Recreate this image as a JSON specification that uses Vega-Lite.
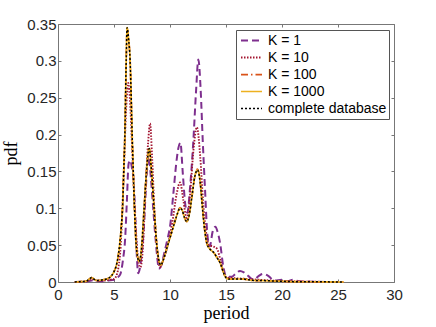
{
"$schema": "https://vega.github.io/schema/vega-lite/v6.json",
"width": 336, "height": 258,
"autosize": "none",
"padding": {"left": 58, "top": 24, "right": 42, "bottom": 45},
"background": "white",
"config": {"view": {"stroke": "#777", "strokeWidth": 1}},
"datasets": {
"d": [
{"s":"K = 1","x":1.5,"y":0},{"s":"K = 1","x":2.5,"y":0.0005},{"s":"K = 1","x":3.0,"y":0.002},{"s":"K = 1","x":3.5,"y":0.001},{"s":"K = 1","x":4.0,"y":0.001},{"s":"K = 1","x":4.5,"y":0.002},{"s":"K = 1","x":5.0,"y":0.003},{"s":"K = 1","x":5.3,"y":0.006},{"s":"K = 1","x":5.55,"y":0.01},{"s":"K = 1","x":5.8,"y":0.03},{"s":"K = 1","x":6.0,"y":0.06},{"s":"K = 1","x":6.15,"y":0.11},{"s":"K = 1","x":6.3,"y":0.16},{"s":"K = 1","x":6.45,"y":0.165},{"s":"K = 1","x":6.6,"y":0.155},{"s":"K = 1","x":6.74,"y":0.139},{"s":"K = 1","x":6.9,"y":0.089},{"s":"K = 1","x":7.04,"y":0.035},{"s":"K = 1","x":7.15,"y":0.012},{"s":"K = 1","x":7.3,"y":0.018},{"s":"K = 1","x":7.45,"y":0.035},{"s":"K = 1","x":7.63,"y":0.066},{"s":"K = 1","x":7.93,"y":0.148},{"s":"K = 1","x":8.1,"y":0.17},{"s":"K = 1","x":8.3,"y":0.14},{"s":"K = 1","x":8.5,"y":0.1},{"s":"K = 1","x":8.67,"y":0.066},{"s":"K = 1","x":8.85,"y":0.035},{"s":"K = 1","x":9.0,"y":0.018},{"s":"K = 1","x":9.2,"y":0.022},{"s":"K = 1","x":9.5,"y":0.04},{"s":"K = 1","x":9.8,"y":0.06},{"s":"K = 1","x":10.0,"y":0.075},{"s":"K = 1","x":10.3,"y":0.12},{"s":"K = 1","x":10.55,"y":0.16},{"s":"K = 1","x":10.75,"y":0.182},{"s":"K = 1","x":10.93,"y":0.189},{"s":"K = 1","x":11.14,"y":0.148},{"s":"K = 1","x":11.35,"y":0.107},{"s":"K = 1","x":11.55,"y":0.094},{"s":"K = 1","x":11.8,"y":0.13},{"s":"K = 1","x":12.09,"y":0.193},{"s":"K = 1","x":12.33,"y":0.26},{"s":"K = 1","x":12.53,"y":0.302},{"s":"K = 1","x":12.74,"y":0.26},{"s":"K = 1","x":12.92,"y":0.193},{"s":"K = 1","x":13.13,"y":0.125},{"s":"K = 1","x":13.33,"y":0.066},{"s":"K = 1","x":13.55,"y":0.048},{"s":"K = 1","x":13.8,"y":0.068},{"s":"K = 1","x":14.05,"y":0.075},{"s":"K = 1","x":14.25,"y":0.068},{"s":"K = 1","x":14.47,"y":0.053},{"s":"K = 1","x":14.76,"y":0.021},{"s":"K = 1","x":15.0,"y":0.008},{"s":"K = 1","x":15.5,"y":0.007},{"s":"K = 1","x":15.9,"y":0.012},{"s":"K = 1","x":16.25,"y":0.015},{"s":"K = 1","x":16.6,"y":0.013},{"s":"K = 1","x":17.0,"y":0.008},{"s":"K = 1","x":17.5,"y":0.003},{"s":"K = 1","x":17.9,"y":0.008},{"s":"K = 1","x":18.3,"y":0.011},{"s":"K = 1","x":18.8,"y":0.008},{"s":"K = 1","x":19.3,"y":0.002},{"s":"K = 1","x":20.0,"y":0.003},{"s":"K = 1","x":20.5,"y":0.001},{"s":"K = 1","x":21.0,"y":0.003},{"s":"K = 1","x":21.5,"y":0.001},{"s":"K = 1","x":22.5,"y":0.0005},{"s":"K = 1","x":24.0,"y":0},

{"s":"K = 10","x":1.5,"y":0},{"s":"K = 10","x":2.5,"y":0.001},{"s":"K = 10","x":3.0,"y":0.004},{"s":"K = 10","x":3.5,"y":0.002},{"s":"K = 10","x":4.0,"y":0.002},{"s":"K = 10","x":4.5,"y":0.003},{"s":"K = 10","x":5.0,"y":0.004},{"s":"K = 10","x":5.2,"y":0.008},{"s":"K = 10","x":5.4,"y":0.02},{"s":"K = 10","x":5.6,"y":0.05},{"s":"K = 10","x":5.75,"y":0.1},{"s":"K = 10","x":5.9,"y":0.16},{"s":"K = 10","x":6.1,"y":0.24},{"s":"K = 10","x":6.28,"y":0.27},{"s":"K = 10","x":6.45,"y":0.24},{"s":"K = 10","x":6.65,"y":0.17},{"s":"K = 10","x":6.85,"y":0.1},{"s":"K = 10","x":7.0,"y":0.06},{"s":"K = 10","x":7.2,"y":0.025},{"s":"K = 10","x":7.35,"y":0.02},{"s":"K = 10","x":7.55,"y":0.04},{"s":"K = 10","x":7.8,"y":0.12},{"s":"K = 10","x":8.05,"y":0.19},{"s":"K = 10","x":8.22,"y":0.215},{"s":"K = 10","x":8.4,"y":0.17},{"s":"K = 10","x":8.6,"y":0.1},{"s":"K = 10","x":8.85,"y":0.045},{"s":"K = 10","x":9.1,"y":0.02},{"s":"K = 10","x":9.4,"y":0.03},{"s":"K = 10","x":9.8,"y":0.05},{"s":"K = 10","x":10.2,"y":0.08},{"s":"K = 10","x":10.6,"y":0.12},{"s":"K = 10","x":10.9,"y":0.135},{"s":"K = 10","x":11.2,"y":0.11},{"s":"K = 10","x":11.5,"y":0.085},{"s":"K = 10","x":11.8,"y":0.12},{"s":"K = 10","x":12.1,"y":0.18},{"s":"K = 10","x":12.4,"y":0.21},{"s":"K = 10","x":12.7,"y":0.17},{"s":"K = 10","x":12.95,"y":0.11},{"s":"K = 10","x":13.2,"y":0.07},{"s":"K = 10","x":13.5,"y":0.05},{"s":"K = 10","x":13.9,"y":0.048},{"s":"K = 10","x":14.2,"y":0.045},{"s":"K = 10","x":14.5,"y":0.03},{"s":"K = 10","x":14.8,"y":0.012},{"s":"K = 10","x":15.1,"y":0.006},{"s":"K = 10","x":16,"y":0.005},{"s":"K = 10","x":17,"y":0.004},{"s":"K = 10","x":18,"y":0.003},{"s":"K = 10","x":19,"y":0.002},{"s":"K = 10","x":20,"y":0.001},{"s":"K = 10","x":22,"y":0.0005},{"s":"K = 10","x":25,"y":0},

{"s":"K = 100","x":1.5,"y":0},{"s":"K = 100","x":2.0,"y":0.0005},{"s":"K = 100","x":2.5,"y":0.001},{"s":"K = 100","x":2.8,"y":0.004},{"s":"K = 100","x":3.0,"y":0.006},{"s":"K = 100","x":3.2,"y":0.004},{"s":"K = 100","x":3.5,"y":0.002},{"s":"K = 100","x":4.0,"y":0.003},{"s":"K = 100","x":4.5,"y":0.005},{"s":"K = 100","x":4.8,"y":0.009},{"s":"K = 100","x":5.0,"y":0.014},{"s":"K = 100","x":5.2,"y":0.022},{"s":"K = 100","x":5.35,"y":0.033},{"s":"K = 100","x":5.5,"y":0.05},{"s":"K = 100","x":5.65,"y":0.075},{"s":"K = 100","x":5.76,"y":0.1},{"s":"K = 100","x":5.87,"y":0.15},{"s":"K = 100","x":5.97,"y":0.2},{"s":"K = 100","x":6.09,"y":0.3},{"s":"K = 100","x":6.17,"y":0.344},{"s":"K = 100","x":6.3,"y":0.33},{"s":"K = 100","x":6.44,"y":0.3},{"s":"K = 100","x":6.62,"y":0.2},{"s":"K = 100","x":6.83,"y":0.1},{"s":"K = 100","x":6.98,"y":0.05},{"s":"K = 100","x":7.1,"y":0.035},{"s":"K = 100","x":7.22,"y":0.028},{"s":"K = 100","x":7.35,"y":0.032},{"s":"K = 100","x":7.48,"y":0.05},{"s":"K = 100","x":7.69,"y":0.1},{"s":"K = 100","x":7.9,"y":0.15},{"s":"K = 100","x":8.14,"y":0.182},{"s":"K = 100","x":8.35,"y":0.15},{"s":"K = 100","x":8.58,"y":0.1},{"s":"K = 100","x":8.82,"y":0.05},{"s":"K = 100","x":9.0,"y":0.03},{"s":"K = 100","x":9.18,"y":0.023},{"s":"K = 100","x":9.4,"y":0.03},{"s":"K = 100","x":9.7,"y":0.045},{"s":"K = 100","x":10.0,"y":0.06},{"s":"K = 100","x":10.3,"y":0.075},{"s":"K = 100","x":10.6,"y":0.09},{"s":"K = 100","x":10.9,"y":0.101},{"s":"K = 100","x":11.1,"y":0.097},{"s":"K = 100","x":11.3,"y":0.087},{"s":"K = 100","x":11.5,"y":0.082},{"s":"K = 100","x":11.7,"y":0.09},{"s":"K = 100","x":11.95,"y":0.115},{"s":"K = 100","x":12.2,"y":0.142},{"s":"K = 100","x":12.45,"y":0.153},{"s":"K = 100","x":12.7,"y":0.135},{"s":"K = 100","x":12.9,"y":0.1},{"s":"K = 100","x":13.1,"y":0.07},{"s":"K = 100","x":13.3,"y":0.052},{"s":"K = 100","x":13.6,"y":0.044},{"s":"K = 100","x":13.9,"y":0.04},{"s":"K = 100","x":14.2,"y":0.033},{"s":"K = 100","x":14.5,"y":0.025},{"s":"K = 100","x":14.8,"y":0.012},{"s":"K = 100","x":15.0,"y":0.006},{"s":"K = 100","x":15.3,"y":0.004},{"s":"K = 100","x":16.0,"y":0.004},{"s":"K = 100","x":16.5,"y":0.004},{"s":"K = 100","x":17.0,"y":0.003},{"s":"K = 100","x":17.5,"y":0.002},{"s":"K = 100","x":18,"y":0.002},{"s":"K = 100","x":19,"y":0.0015},{"s":"K = 100","x":20,"y":0.001},{"s":"K = 100","x":21,"y":0.0005},{"s":"K = 100","x":23,"y":0.0003},{"s":"K = 100","x":25.5,"y":0},

{"s":"K = 1000","x":1.5,"y":0},{"s":"K = 1000","x":2.0,"y":0.0005},{"s":"K = 1000","x":2.5,"y":0.001},{"s":"K = 1000","x":2.8,"y":0.004},{"s":"K = 1000","x":3.0,"y":0.006},{"s":"K = 1000","x":3.2,"y":0.004},{"s":"K = 1000","x":3.5,"y":0.002},{"s":"K = 1000","x":4.0,"y":0.003},{"s":"K = 1000","x":4.5,"y":0.005},{"s":"K = 1000","x":4.8,"y":0.009},{"s":"K = 1000","x":5.0,"y":0.014},{"s":"K = 1000","x":5.2,"y":0.022},{"s":"K = 1000","x":5.35,"y":0.033},{"s":"K = 1000","x":5.5,"y":0.05},{"s":"K = 1000","x":5.65,"y":0.075},{"s":"K = 1000","x":5.76,"y":0.1},{"s":"K = 1000","x":5.87,"y":0.15},{"s":"K = 1000","x":5.97,"y":0.2},{"s":"K = 1000","x":6.09,"y":0.3},{"s":"K = 1000","x":6.17,"y":0.345},{"s":"K = 1000","x":6.3,"y":0.33},{"s":"K = 1000","x":6.44,"y":0.3},{"s":"K = 1000","x":6.62,"y":0.2},{"s":"K = 1000","x":6.83,"y":0.1},{"s":"K = 1000","x":6.98,"y":0.05},{"s":"K = 1000","x":7.1,"y":0.035},{"s":"K = 1000","x":7.22,"y":0.028},{"s":"K = 1000","x":7.35,"y":0.032},{"s":"K = 1000","x":7.48,"y":0.05},{"s":"K = 1000","x":7.69,"y":0.1},{"s":"K = 1000","x":7.9,"y":0.15},{"s":"K = 1000","x":8.14,"y":0.181},{"s":"K = 1000","x":8.35,"y":0.15},{"s":"K = 1000","x":8.58,"y":0.1},{"s":"K = 1000","x":8.82,"y":0.05},{"s":"K = 1000","x":9.0,"y":0.03},{"s":"K = 1000","x":9.18,"y":0.023},{"s":"K = 1000","x":9.4,"y":0.03},{"s":"K = 1000","x":9.7,"y":0.045},{"s":"K = 1000","x":10.0,"y":0.06},{"s":"K = 1000","x":10.3,"y":0.075},{"s":"K = 1000","x":10.6,"y":0.09},{"s":"K = 1000","x":10.9,"y":0.1},{"s":"K = 1000","x":11.1,"y":0.097},{"s":"K = 1000","x":11.3,"y":0.087},{"s":"K = 1000","x":11.5,"y":0.082},{"s":"K = 1000","x":11.7,"y":0.09},{"s":"K = 1000","x":11.95,"y":0.115},{"s":"K = 1000","x":12.2,"y":0.142},{"s":"K = 1000","x":12.45,"y":0.152},{"s":"K = 1000","x":12.7,"y":0.135},{"s":"K = 1000","x":12.9,"y":0.1},{"s":"K = 1000","x":13.1,"y":0.07},{"s":"K = 1000","x":13.3,"y":0.052},{"s":"K = 1000","x":13.6,"y":0.044},{"s":"K = 1000","x":13.9,"y":0.04},{"s":"K = 1000","x":14.2,"y":0.033},{"s":"K = 1000","x":14.5,"y":0.025},{"s":"K = 1000","x":14.8,"y":0.012},{"s":"K = 1000","x":15.0,"y":0.006},{"s":"K = 1000","x":15.3,"y":0.004},{"s":"K = 1000","x":16.0,"y":0.004},{"s":"K = 1000","x":16.5,"y":0.004},{"s":"K = 1000","x":17.0,"y":0.003},{"s":"K = 1000","x":17.5,"y":0.002},{"s":"K = 1000","x":18,"y":0.002},{"s":"K = 1000","x":19,"y":0.0015},{"s":"K = 1000","x":20,"y":0.001},{"s":"K = 1000","x":21,"y":0.0005},{"s":"K = 1000","x":23,"y":0.0003},{"s":"K = 1000","x":25.5,"y":0},

{"s":"complete database","x":1.5,"y":0},{"s":"complete database","x":2.0,"y":0.0005},{"s":"complete database","x":2.5,"y":0.001},{"s":"complete database","x":2.8,"y":0.004},{"s":"complete database","x":3.0,"y":0.006},{"s":"complete database","x":3.2,"y":0.004},{"s":"complete database","x":3.5,"y":0.002},{"s":"complete database","x":4.0,"y":0.003},{"s":"complete database","x":4.5,"y":0.005},{"s":"complete database","x":4.8,"y":0.009},{"s":"complete database","x":5.0,"y":0.014},{"s":"complete database","x":5.2,"y":0.022},{"s":"complete database","x":5.35,"y":0.033},{"s":"complete database","x":5.5,"y":0.05},{"s":"complete database","x":5.65,"y":0.075},{"s":"complete database","x":5.76,"y":0.1},{"s":"complete database","x":5.87,"y":0.15},{"s":"complete database","x":5.97,"y":0.2},{"s":"complete database","x":6.09,"y":0.3},{"s":"complete database","x":6.17,"y":0.345},{"s":"complete database","x":6.3,"y":0.33},{"s":"complete database","x":6.44,"y":0.3},{"s":"complete database","x":6.62,"y":0.2},{"s":"complete database","x":6.83,"y":0.1},{"s":"complete database","x":6.98,"y":0.05},{"s":"complete database","x":7.1,"y":0.035},{"s":"complete database","x":7.22,"y":0.028},{"s":"complete database","x":7.35,"y":0.032},{"s":"complete database","x":7.48,"y":0.05},{"s":"complete database","x":7.69,"y":0.1},{"s":"complete database","x":7.9,"y":0.15},{"s":"complete database","x":8.14,"y":0.181},{"s":"complete database","x":8.35,"y":0.15},{"s":"complete database","x":8.58,"y":0.1},{"s":"complete database","x":8.82,"y":0.05},{"s":"complete database","x":9.0,"y":0.03},{"s":"complete database","x":9.18,"y":0.023},{"s":"complete database","x":9.4,"y":0.03},{"s":"complete database","x":9.7,"y":0.045},{"s":"complete database","x":10.0,"y":0.06},{"s":"complete database","x":10.3,"y":0.075},{"s":"complete database","x":10.6,"y":0.09},{"s":"complete database","x":10.9,"y":0.1},{"s":"complete database","x":11.1,"y":0.097},{"s":"complete database","x":11.3,"y":0.087},{"s":"complete database","x":11.5,"y":0.082},{"s":"complete database","x":11.7,"y":0.09},{"s":"complete database","x":11.95,"y":0.115},{"s":"complete database","x":12.2,"y":0.142},{"s":"complete database","x":12.45,"y":0.152},{"s":"complete database","x":12.7,"y":0.135},{"s":"complete database","x":12.9,"y":0.1},{"s":"complete database","x":13.1,"y":0.07},{"s":"complete database","x":13.3,"y":0.052},{"s":"complete database","x":13.6,"y":0.044},{"s":"complete database","x":13.9,"y":0.04},{"s":"complete database","x":14.2,"y":0.033},{"s":"complete database","x":14.5,"y":0.025},{"s":"complete database","x":14.8,"y":0.012},{"s":"complete database","x":15.0,"y":0.006},{"s":"complete database","x":15.3,"y":0.004},{"s":"complete database","x":16.0,"y":0.004},{"s":"complete database","x":16.5,"y":0.004},{"s":"complete database","x":17.0,"y":0.003},{"s":"complete database","x":17.5,"y":0.002},{"s":"complete database","x":18,"y":0.002},{"s":"complete database","x":19,"y":0.0015},{"s":"complete database","x":20,"y":0.001},{"s":"complete database","x":21,"y":0.0005},{"s":"complete database","x":23,"y":0.0003},{"s":"complete database","x":25.5,"y":0}
]
},
"data": {"name": "d"},
"layer": [
{
"mark": {"type": "line", "interpolate": "monotone"},
"encoding": {
"x": {"field": "x", "type": "quantitative", "scale": {"domain": [0, 30], "nice": false},
 "axis": {"orient": "bottom", "values": [0,5,10,15,20,25,30], "title": "period", "titleFont": "Liberation Serif", "titleFontSize": 18, "titleFontWeight": "normal", "titleColor": "#000", "titlePadding": 2, "labelFont": "Liberation Sans", "labelFontSize": 15, "labelColor": "#262626", "labelPadding": 8, "tickSize": -3, "tickColor": "#777", "domain": false, "grid": false, "labelFlush": false}},
"y": {"field": "y", "type": "quantitative", "scale": {"domain": [0, 0.35], "nice": false},
 "axis": {"orient": "left", "values": [0,0.05,0.1,0.15,0.2,0.25,0.3,0.35], "format": "~g", "title": "pdf", "titleFont": "Liberation Serif", "titleFontSize": 18, "titleFontWeight": "normal", "titleColor": "#000", "titlePadding": 6, "labelFont": "Liberation Sans", "labelFontSize": 15, "labelColor": "#262626", "labelPadding": 5, "tickSize": -3, "tickColor": "#777", "domain": false, "grid": false, "labelFlush": false}},
"color": {"field": "s", "type": "nominal",
 "scale": {"domain": ["K = 1","K = 10","K = 100","K = 1000","complete database"], "range": ["#7E2F8E","#A2142F","#D95319","#EDB120","#000000"]},
 "legend": {"orient": "none", "legendX": 178, "legendY": 6, "title": null, "strokeColor": "#555", "fillColor": "white", "padding": 2, "labelFont": "Liberation Sans", "labelFontSize": 14, "labelColor": "#000", "symbolType": "stroke", "symbolSize": 441, "symbolOffset": 2, "symbolStrokeWidth": 1.5, "clipHeight": 17, "rowPadding": 0, "labelOffset": 5, "cornerRadius": 0}},
"strokeDash": {"field": "s", "type": "nominal",
 "scale": {"domain": ["K = 1","K = 10","K = 100","K = 1000","complete database"], "range": [[7,4],[1.5,1.5],[7,3,1.5,3],[1,0],[2,2]]}},
"strokeWidth": {"field": "s", "type": "nominal", "legend": null,
 "scale": {"domain": ["K = 1","K = 10","K = 100","K = 1000","complete database"], "range": [2,1.5,1.5,2.5,2]}}
}
},
{
"mark": {"type": "point", "opacity": 0},
"encoding": {
"x": {"field": "x", "type": "quantitative", "axis": {"orient": "top", "values": [0,5,10,15,20,25,30], "labels": false, "title": null, "tickSize": -3, "tickColor": "#777", "domain": false, "grid": false}},
"y": {"field": "y", "type": "quantitative", "axis": {"orient": "right", "values": [0,0.05,0.1,0.15,0.2,0.25,0.3,0.35], "labels": false, "title": null, "tickSize": -3, "tickColor": "#777", "domain": false, "grid": false}}
}
}
],
"resolve": {"axis": {"x": "independent", "y": "independent"}}
}
